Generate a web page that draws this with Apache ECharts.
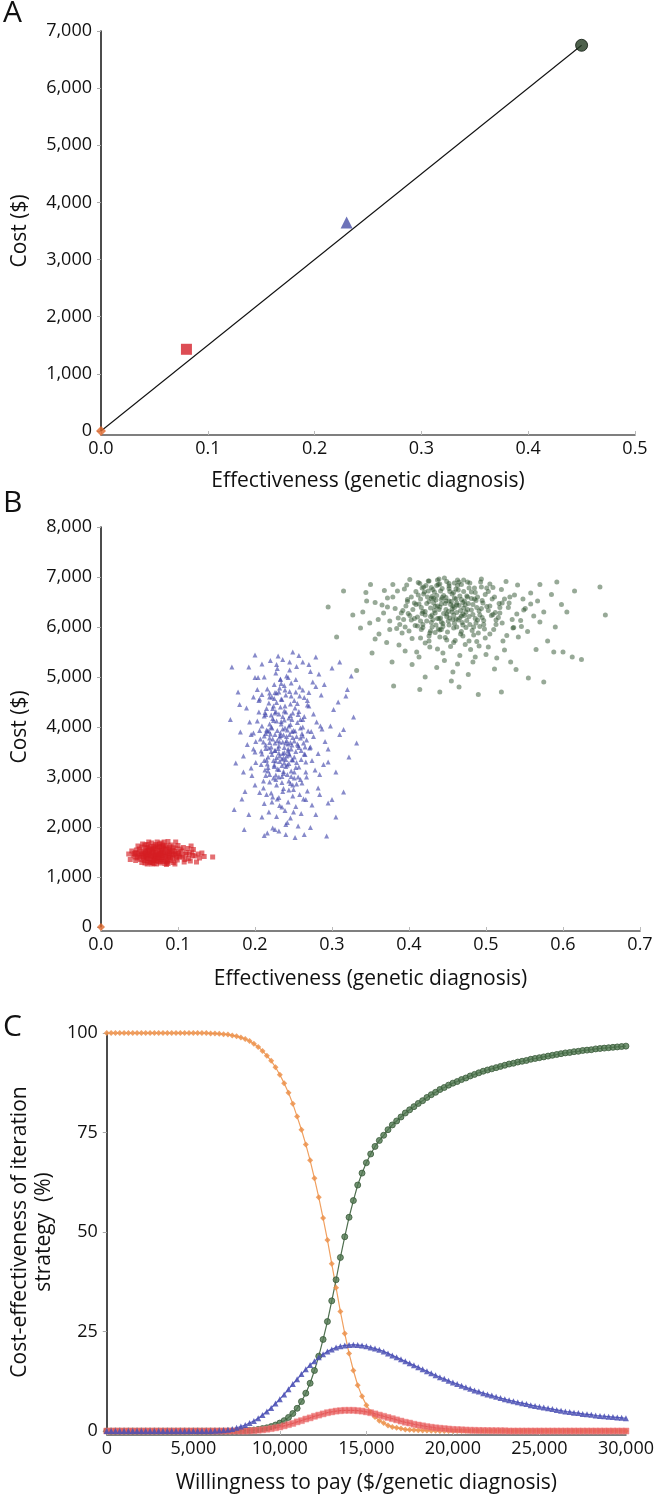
<!DOCTYPE html>
<html>
<head>
<meta charset="utf-8">
<script src="https://cdn.jsdelivr.net/npm/echarts@6/dist/echarts.min.js"></script>
<style>
html,body{margin:0;padding:0;background:#fff;}
#chart{width:657px;height:1496px;}
</style>
</head>
<body>
<div id="chart"></div>
<script>
// ---------- Panel A: base-case strategies ----------
var stratEff  = [0, 0.08, 0.23, 0.45];
var stratCost = [0, 1430, 3650, 6750];

// ---------- Panel B: probabilistic simulations (effectiveness, cost) ----------
var simOrange = [[0, 0]];
var simRed = [[0.071,1450],[0.082,1480],[0.064,1420],[0.078,1390],[0.089,1510],[0.058,1460],[0.075,1540],[0.093,1430],[0.067,1360],[0.084,1410],
[0.061,1530],[0.072,1320],[0.097,1470],[0.055,1390],[0.079,1600],[0.087,1350],[0.068,1490],[0.102,1400],[0.052,1510],[0.074,1440],
[0.09,1560],[0.063,1290],[0.081,1310],[0.059,1580],[0.099,1340],[0.07,1620],[0.086,1460],[0.048,1440],[0.077,1280],[0.105,1520],
[0.066,1570],[0.094,1290],[0.056,1330],[0.083,1550],[0.073,1380],[0.11,1450],[0.062,1450],[0.088,1400],[0.045,1490],[0.079,1500],
[0.097,1580],[0.069,1270],[0.053,1600],[0.085,1620],[0.114,1370],[0.065,1400],[0.076,1660],[0.091,1330],[0.057,1280],[0.101,1470],
[0.071,1500],[0.047,1380],[0.083,1270],[0.06,1650],[0.108,1300],[0.074,1580],[0.095,1510],[0.051,1350],[0.068,1330],[0.118,1500],
[0.087,1300],[0.062,1500],[0.079,1430],[0.042,1440],[0.1,1630],[0.072,1260],[0.089,1460],[0.055,1470],[0.066,1680],[0.122,1420],
[0.078,1350],[0.093,1380],[0.05,1560],[0.082,1700],[0.061,1370],[0.106,1400],[0.07,1400],[0.088,1540],[0.057,1420],[0.113,1570],
[0.075,1310],[0.064,1610],[0.096,1260],[0.045,1330],[0.084,1360],[0.068,1550],[0.126,1460],[0.08,1640],[0.053,1290],[0.099,1420],
[0.073,1700],[0.06,1320],[0.091,1640],[0.04,1520],[0.116,1320],[0.077,1470],[0.085,1250],[0.066,1260],[0.103,1560],[0.048,1620],
[0.128,1380],[0.094,1600],[0.058,1540],[0.081,1580],[0.069,1440],[0.12,1550],[0.044,1400],[0.109,1350],[0.076,1610],[0.062,1700],
[0.134,1410],[0.131,1480],[0.145,1400],[0.036,1460],[0.097,1700],[0.087,1710],[0.054,1660],[0.117,1620],[0.038,1350],[0.124,1300],
[0.066,1440],[0.074,1480],[0.08,1420],[0.059,1400],[0.071,1370],[0.086,1500],[0.063,1470],[0.077,1520],[0.069,1410],[0.083,1450],
[0.056,1500],[0.092,1480],[0.065,1350],[0.073,1600],[0.081,1380],[0.06,1430],[0.07,1560],[0.088,1430],[0.052,1450],[0.078,1320],
[0.067,1520],[0.095,1450],[0.075,1400],[0.058,1370],[0.084,1580],[0.064,1300],[0.072,1430],[0.09,1390],[0.049,1470],[0.079,1540],
[0.068,1600],[0.1,1500],[0.076,1450],[0.061,1590],[0.085,1320],[0.07,1330],[0.054,1420],[0.082,1620],[0.098,1380],[0.066,1510],
[0.074,1360],[0.058,1500],[0.089,1600],[0.063,1550],[0.078,1680],[0.05,1400],[0.104,1440],[0.071,1650],[0.087,1270],[0.06,1260],
[0.111,1490],[0.046,1540],[0.093,1530],[0.067,1290],[0.08,1490],[0.107,1590],[0.057,1640],[0.119,1430],[0.043,1470],[0.115,1460]];
var simBlue = [[0.231,3620],[0.248,3910],[0.215,3340],[0.262,4150],[0.224,2980],[0.239,4420],[0.207,3760],[0.253,3190],[0.228,4680],[0.244,3470],
[0.219,4060],[0.271,3580],[0.236,2710],[0.201,3290],[0.258,4800],[0.226,3850],[0.242,3050],[0.213,4290],[0.267,3740],[0.233,4960],
[0.249,2840],[0.221,3510],[0.285,4020],[0.238,3280],[0.205,4530],[0.255,3660],[0.229,2560],[0.246,4230],[0.217,3120],[0.274,3330],
[0.234,4110],[0.198,3880],[0.259,2950],[0.223,4370],[0.241,3730],[0.264,4590],[0.211,2780],[0.251,3400],[0.227,5080],[0.236,3960],
[0.278,3140],[0.218,3580],[0.245,4710],[0.203,4120],[0.262,3820],[0.232,2430],[0.257,4310],[0.214,3640],[0.24,3210],[0.291,3710],
[0.225,4850],[0.249,2620],[0.209,3460],[0.268,4440],[0.237,3070],[0.221,4000],[0.254,5210],[0.196,3030],[0.243,3560],[0.276,4260],
[0.228,3390],[0.261,2880],[0.216,4760],[0.235,4550],[0.252,3920],[0.206,2690],[0.282,3470],[0.231,3150],[0.247,4880],[0.219,3780],
[0.265,3600],[0.239,2330],[0.212,4220],[0.256,3000],[0.224,4420],[0.298,4020],[0.244,3270],[0.201,3710],[0.27,4690],[0.233,3830],
[0.25,2750],[0.217,3190],[0.259,4150],[0.189,4380],[0.241,5020],[0.228,2210],[0.273,3910],[0.211,2920],[0.246,3690],[0.263,2560],
[0.222,4600],[0.237,3380],[0.289,3250],[0.204,4990],[0.255,4470],[0.231,2590],[0.246,4050],[0.215,3940],[0.279,4810],[0.226,3530],
[0.253,2410],[0.198,3560],[0.267,3000],[0.236,5350],[0.208,3250],[0.26,3530],[0.223,4170],[0.242,2090],[0.282,2780],[0.219,4680],
[0.247,3120],[0.193,4100],[0.27,4420],[0.232,3700],[0.257,5430],[0.212,2470],[0.238,4320],[0.295,3560],[0.225,3240],[0.251,2980],
[0.206,4560],[0.264,3460],[0.229,5170],[0.244,2740],[0.185,3420],[0.276,3810],[0.221,2680],[0.253,4950],[0.235,2890],[0.302,4350],
[0.214,3870],[0.26,2270],[0.24,4640],[0.2,2840],[0.272,5110],[0.226,4280],[0.248,3350],[0.187,2710],[0.266,3100],[0.231,1920],
[0.254,3810],[0.209,5260],[0.286,4640],[0.238,3490],[0.218,2300],[0.249,5500],[0.203,4750],[0.274,2440],[0.227,3040],[0.259,3980],
[0.181,3900],[0.243,2500],[0.31,3850],[0.232,4780],[0.262,4740],[0.214,3030],[0.284,2650],[0.22,5330],[0.246,2180],[0.195,3180],
[0.268,2720],[0.234,4870],[0.256,2020],[0.209,2200],[0.29,4850],[0.24,1850],[0.178,4700],[0.279,2250],[0.223,1980],[0.262,5300],
[0.2,4990],[0.245,5140],[0.305,3100],[0.216,1880],[0.272,1990],[0.23,5420],[0.183,2560],[0.295,2480],[0.252,1790],[0.192,5200],
[0.318,4620],[0.175,3280],[0.283,5060],[0.264,1850],[0.305,2200],[0.168,4150],[0.322,3400],[0.293,1820],[0.173,2350],[0.325,5020],
[0.17,5200],[0.315,2700],[0.2,5440],[0.31,5300],[0.186,1950],[0.328,4200],[0.279,5400],[0.212,1830],[0.3,5180],[0.332,3680],
[0.232,3420],[0.241,3810],[0.226,3680],[0.247,3560],[0.218,3920],[0.236,4210],[0.251,3720],[0.229,3160],[0.244,4020],[0.222,3450],
[0.238,3590],[0.255,4090],[0.214,3570],[0.233,3880],[0.249,3340],[0.227,4310],[0.242,3240],[0.219,3690],[0.261,3870],[0.235,3360],
[0.224,4130],[0.246,4460],[0.231,3000],[0.253,3510],[0.216,3260],[0.239,3980],[0.228,4490],[0.257,3200],[0.221,4240],[0.243,3660],
[0.234,4560],[0.25,3930],[0.212,3820],[0.237,3110],[0.226,3530],[0.264,4210],[0.231,4700],[0.245,3440],[0.219,3050],[0.24,4300],
[0.256,3630],[0.223,3760],[0.235,3230],[0.248,4150],[0.209,4020],[0.229,3930],[0.266,3300],[0.238,4830],[0.217,3400],[0.252,4380],
[0.232,3800],[0.244,2920],[0.225,4570],[0.259,3780],[0.213,3140],[0.236,3700],[0.247,4620],[0.22,3860],[0.241,3420],[0.228,2840],
[0.254,3290],[0.233,4400],[0.215,4370],[0.249,3790],[0.237,2770],[0.262,4000],[0.224,3330],[0.243,4990],[0.208,3520],[0.231,4260],
[0.258,4620],[0.227,2950],[0.245,3850],[0.218,4480],[0.236,3470],[0.251,3100],[0.222,3980],[0.239,4740],[0.265,3450],[0.23,3570],
[0.247,3010],[0.211,3700],[0.234,4060],[0.256,4250],[0.225,3210],[0.242,3940],[0.219,2900],[0.253,4700],[0.232,3310],[0.269,3920],
[0.226,4690],[0.24,3350],[0.214,4250],[0.248,3640],[0.235,3010],[0.26,3350],[0.221,3600],[0.244,4180],[0.229,3730],[0.206,3930],
[0.251,4530],[0.237,3840],[0.223,2600],[0.257,3590],[0.233,4950],[0.216,3920],[0.246,2870],[0.228,4120],[0.263,3680],[0.24,3680],
[0.212,3330],[0.249,4280],[0.231,3480],[0.254,2860],[0.219,4600],[0.238,4140],[0.227,3320],[0.268,4530],[0.243,3520],[0.209,4650],
[0.222,2500],[0.258,2650],[0.235,2400],[0.272,3600],[0.2,3500],[0.28,4100],[0.195,3850],[0.25,2300],[0.215,2650],[0.275,4900],
[0.205,4300],[0.287,3960],[0.198,4600],[0.266,2550],[0.228,5250],[0.245,5300],[0.19,3650],[0.295,3300],[0.212,5000],[0.284,3050],
[0.18,4450],[0.308,4500],[0.24,2050],[0.226,1950],[0.3,2550],[0.185,3100],[0.315,3950],[0.192,2250],[0.27,5250],[0.32,4750]];
var simGreen = [[0.452,6520],[0.418,6310],[0.487,6080],[0.431,6750],[0.396,6420],[0.512,6290],[0.468,5910],[0.441,6180],[0.379,6600],[0.503,6710],
[0.426,5820],[0.459,6390],[0.534,6150],[0.412,6890],[0.475,6620],[0.388,6050],[0.449,6260],[0.521,6480],[0.437,5560],[0.463,6830],
[0.401,6230],[0.494,6370],[0.356,6490],[0.478,5720],[0.429,6570],[0.546,6010],[0.415,6120],[0.471,6940],[0.391,5880],[0.508,6560],
[0.444,6010],[0.483,6250],[0.367,6280],[0.456,6660],[0.527,5830],[0.409,6450],[0.438,6850],[0.498,5960],[0.375,6120],[0.462,6440],
[0.421,5680],[0.551,6370],[0.485,6780],[0.403,6600],[0.447,5790],[0.516,6190],[0.433,6330],[0.344,6690],[0.469,6090],[0.394,6760],
[0.491,5620],[0.426,6920],[0.458,5980],[0.537,6640],[0.382,6370],[0.474,6300],[0.416,5950],[0.505,6860],[0.442,6550],[0.361,5860],
[0.489,6140],[0.453,6710],[0.407,6170],[0.529,6390],[0.466,5430],[0.398,6510],[0.435,6040],[0.562,6220],[0.477,6470],[0.419,6800],
[0.446,5330],[0.513,6050],[0.372,6580],[0.484,5840],[0.428,6210],[0.541,6840],[0.461,6160],[0.404,5770],[0.495,6530],[0.439,6960],
[0.386,6180],[0.522,5720],[0.456,6360],[0.412,6640],[0.473,5650],[0.349,6080],[0.501,6410],[0.434,5890],[0.567,6520],[0.465,6900],
[0.423,6470],[0.48,5550],[0.397,6840],[0.518,6280],[0.449,5740],[0.368,6730],[0.492,6010],[0.43,6610],[0.554,5910],[0.459,6580],
[0.41,5500],[0.476,6350],[0.384,5970],[0.509,6790],[0.442,6100],[0.531,6600],[0.417,6270],[0.463,5260],[0.392,6330],[0.499,5780],
[0.452,6870],[0.575,6300],[0.428,5920],[0.486,6690],[0.356,5760],[0.44,6400],[0.524,5540],[0.47,6040],[0.401,6950],[0.545,6130],
[0.454,5610],[0.379,6850],[0.507,6230],[0.436,5190],[0.481,6570],[0.418,6050],[0.536,5990],[0.461,6760],[0.327,6240],[0.495,6190],
[0.444,5480],[0.399,6270],[0.558,6680],[0.467,5860],[0.425,6720],[0.514,5380],[0.387,5640],[0.479,6880],[0.451,6310],[0.542,5800],
[0.413,5400],[0.488,5710],[0.365,6440],[0.457,5100],[0.526,6910],[0.432,6480],[0.503,5600],[0.395,5520],[0.472,6230],[0.58,5720],
[0.446,6980],[0.421,5000],[0.517,6470],[0.378,5300],[0.483,5300],[0.44,5940],[0.598,6450],[0.464,6140],[0.408,6030],[0.532,5300],
[0.455,4920],[0.337,5980],[0.494,6960],[0.427,5600],[0.565,5550],[0.47,6490],[0.393,6150],[0.511,5160],[0.448,6520],[0.612,5400],
[0.315,6720],[0.486,5400],[0.437,6170],[0.549,6340],[0.404,5250],[0.477,5050],[0.521,6080],[0.371,5690],[0.46,5730],[0.588,5500],
[0.352,5480],[0.5,5450],[0.43,6000],[0.539,5150],[0.624,5350],[0.465,4800],[0.306,5800],[0.575,4900],[0.414,4750],[0.52,4700],
[0.648,6800],[0.655,6240],[0.615,6720],[0.295,6400],[0.6,5500],[0.332,5130],[0.38,4820],[0.555,4980],[0.49,4650],[0.44,4700],
[0.445,6630],[0.462,6290],[0.428,6380],[0.483,6450],[0.439,6170],[0.471,6710],[0.415,6560],[0.497,6130],[0.452,6040],[0.436,6830],
[0.478,6210],[0.421,6240],[0.459,6880],[0.505,6420],[0.442,6460],[0.468,6550],[0.411,6020],[0.489,6600],[0.433,6700],[0.457,6150],
[0.474,5990],[0.426,6510],[0.494,6800],[0.448,6350],[0.417,6780],[0.465,6430],[0.438,5960],[0.481,6340],[0.452,6770],[0.511,6600],
[0.429,6090],[0.468,6220],[0.405,6350],[0.476,6900],[0.443,6590],[0.492,6240],[0.419,6660],[0.455,6510],[0.434,6280],[0.462,6000],
[0.487,6530],[0.413,6460],[0.449,6910],[0.471,6380],[0.427,5880],[0.503,6330],[0.441,6720],[0.458,6240],[0.482,5930],[0.422,6830],
[0.466,6620],[0.437,6420],[0.496,6480],[0.451,6120],[0.409,6710],[0.478,6780],[0.445,6270],[0.463,6940],[0.431,6150],[0.518,6390],
[0.454,6450],[0.424,6600],[0.486,6170],[0.44,6860],[0.472,6520],[0.416,6390],[0.459,6070],[0.499,6650],[0.435,6540],[0.467,6330],
[0.448,6590],[0.403,6140],[0.481,6700],[0.429,6790],[0.457,6420],[0.509,6250],[0.442,5950],[0.475,6130],[0.421,6310],[0.464,6740],
[0.488,6390],[0.436,6630],[0.453,6180],[0.418,5990],[0.493,6900],[0.447,6470],[0.47,6260],[0.425,6920],[0.461,6560],[0.439,6350],
[0.524,6560],[0.398,6550],[0.479,6050],[0.452,6820],[0.43,6240],[0.485,6560],[0.414,6870],[0.466,6180],[0.444,6070],[0.501,6780],
[0.458,6690],[0.423,6120],[0.473,6440],[0.437,6940],[0.491,6320],[0.449,6210],[0.407,6480],[0.468,6850],[0.432,6570],[0.513,6140],
[0.456,6300],[0.42,6700],[0.484,6000],[0.443,6770],[0.476,6600],[0.411,6200],[0.462,6480],[0.497,6050],[0.434,6410],[0.45,5900],
[0.53,6480],[0.39,6280],[0.54,6260],[0.385,6720],[0.548,6560],[0.372,6400],[0.52,6750],[0.4,5920],[0.535,5980],[0.375,5950],
[0.505,5860],[0.415,5780],[0.47,5820],[0.49,5880],[0.44,5800],[0.458,5690],[0.426,5720],[0.51,5950],[0.395,6000],[0.57,6100],
[0.558,6460],[0.36,6150],[0.585,6650],[0.345,6520],[0.57,6850],[0.35,6850],[0.59,6000],[0.34,6300],[0.605,6300],[0.592,6900]];

// ---------- Panel C: acceptability curves ----------
var wtp = [0,250,500,750,1000,1250,1500,1750,2000,2250,2500,2750,3000,3250,3500,3750,4000,4250,4500,4750,
5000,5250,5500,5750,6000,6250,6500,6750,7000,7250,7500,7750,8000,8250,8500,8750,9000,9250,9500,9750,
10000,10250,10500,10750,11000,11250,11500,11750,12000,12250,12500,12750,13000,13250,13500,13750,14000,14250,14500,14750,
15000,15250,15500,15750,16000,16250,16500,16750,17000,17250,17500,17750,18000,18250,18500,18750,19000,19250,19500,19750,
20000,20250,20500,20750,21000,21250,21500,21750,22000,22250,22500,22750,23000,23250,23500,23750,24000,24250,24500,24750,
25000,25250,25500,25750,26000,26250,26500,26750,27000,27250,27500,27750,28000,28250,28500,28750,29000,29250,29500,29750,30000];
var pctOrange = [100,100,100,100,100,100,100,100,100,100,100,100,100,100,100,100,100,100,100,100,100,100,100,100,
99.9,99.9,99.8,99.7,99.6,99.4,99.2,98.9,98.5,98,
97.3,96.5,95.5,94.3,93,91.4,89.5,87.4,85,82.2,
79,75.7,72,68,63.5,58.7,53.5,48,42,36,
30,24.5,19.5,15.2,11.5,8.7,6.5,4.8,3.5,2.6,
2,1.4,1,0.8,0.6,0.4,0.3,0.25,0.2,0.15,
0.1,0.08,0.05,
0,0,0,0,0,0,0,0,0,0,0,0,0,0,0,0,0,0,0,0,0,0,0,0,0,0,0,0,0,0,0,0,0,0,0,0,0,0,0,0,0,0,0,0];
var pctBlue = [0,0,0,0,0,0,0,0,0,0,0,0,0,0,0,0,0,0,0,0,0,0,0,0,0,
0.05,0.1,0.2,0.3,0.5,0.8,1.1,1.5,2,2.5,
3.2,4,4.9,5.8,6.9,8,9.2,10.5,11.8,13,
14.3,15.5,16.6,17.5,18.5,19.3,20,20.5,21,21.3,
21.5,21.6,21.7,21.6,21.5,21.3,21,20.7,20.4,20,
19.5,19,18.5,18,17.5,17,16.5,16,15.5,15,
14.5,14,13.5,13.1,12.6,12.2,11.8,11.4,11,10.6,
10.2,9.9,9.5,9.2,8.9,8.6,8.3,8,7.7,7.5,
7.2,7,6.8,6.5,6.3,6.1,5.9,5.7,5.5,5.3,
5.1,4.9,4.8,4.6,4.5,4.3,4.2,4.1,3.9,3.8,
3.7,3.6,3.5,3.4,3.3,3.2];
var pctRed = [0,0,0,0,0,0,0,0,0,0,0,0,0,0,0,0,0,0,0,0,0,0,0,0,0,0,0,0,0,0,0,0,0,
0.05,0.1,0.2,0.3,0.45,0.6,0.8,1,1.3,1.6,
1.9,2.3,2.6,3,3.3,3.7,4,4.3,4.6,4.8,
5,5.1,5.2,5.2,5.2,5.1,5,4.8,4.6,4.3,
4,3.7,3.4,3.1,2.8,2.5,2.2,2,1.7,1.5,
1.3,1.1,0.95,0.8,0.7,0.6,0.5,0.4,0.35,0.3,
0.25,0.2,0.17,0.14,0.12,0.1,0.08,0.07,0.06,0.05,
0,0,0,0,0,0,0,0,0,0,0,0,0,0,0,0,0,0,0,0,0,0,0,0,0,0,0,0];
var pctGreen = [0,0,0,0,0,0,0,0,0,0,0,0,0,0,0,0,0,0,0,0,0,0,0,0,0,0,0,0,0,0,0,
0.05,0.1,0.15,0.25,0.4,0.6,0.8,1.1,1.5,2,
2.6,3.4,4.4,5.7,7.4,9.5,12,15.2,18.8,23,
27.5,32.7,38,43.6,48.8,53.7,57.9,61.8,64.8,67.4,
69.6,71.5,73,74.3,75.7,76.9,77.9,78.9,79.9,80.7,
81.5,82.3,83,83.8,84.5,85.1,85.8,86.3,86.9,87.4,
87.8,88.3,88.7,89.2,89.6,90,90.4,90.7,91,91.3,
91.6,91.9,92.2,92.4,92.7,92.9,93.1,93.4,93.6,93.8,
94,94.2,94.4,94.6,94.8,95,95.1,95.3,95.4,95.6,
95.7,95.8,96,96.1,96.2,96.3,96.4,96.5,96.6,96.7];

// ---------- labels ----------
var panelLabels = ['A', 'B', 'C'];
var xNameAB = 'Effectiveness (genetic diagnosis)';
var yNameAB = 'Cost ($)';
var xNameC = 'Willingness to pay ($/genetic diagnosis)';
var yNameC = 'Cost-effectiveness of iteration\nstrategy  (%)';

// ---------- colours ----------
var cOrange = '#E0682A', cRed = '#D4202A', cBlue = '#4850A8', cGreen = '#22391F';

function pairs(xs, ys) { return xs.map(function (x, i) { return [x, ys[i]]; }); }
function thousands(v) { return v.toLocaleString('en-US'); }
function fixed1(v) { return v.toFixed(1); }

var FONT = 'Open Sans';
var tickLabel = { color: '#111', fontSize: 18, fontFamily: FONT };
var nameStyle = { color: '#111', fontSize: 21, fontFamily: FONT, lineHeight: 24 };

function yAxisCommon(idx, min, max, interval, fmt, name, gap) {
  return {
    type: 'value', gridIndex: idx, min: min, max: max, interval: interval,
    offset: 3,
    name: name, nameLocation: 'middle', nameGap: gap, nameTextStyle: nameStyle,
    axisLine: { show: true, lineStyle: { color: '#111', width: 1.5 } },
    axisTick: { show: true, length: 4, lineStyle: { color: '#aaa' } },
    axisLabel: Object.assign({ margin: 6, formatter: fmt }, tickLabel),
    splitLine: { show: false }
  };
}
function xAxisCommon(idx, min, max, interval, fmt, name, gap) {
  return {
    type: 'value', gridIndex: idx, min: min, max: max, interval: interval,
    offset: 4,
    name: name, nameLocation: 'middle', nameGap: gap, nameTextStyle: nameStyle,
    axisLine: { show: true, onZero: false, lineStyle: { color: '#555', width: 1.6 } },
    axisTick: { show: true, inside: true, length: 4, lineStyle: { color: '#bbb' } },
    axisLabel: Object.assign({ margin: 5, formatter: fmt }, tickLabel),
    splitLine: { show: false }
  };
}

var chart = echarts.init(document.getElementById('chart'), null, { renderer: 'canvas' });
var last = stratEff.length - 1;
var letterStyle = { fontSize: 30, fontFamily: FONT, fill: '#111' };

chart.setOption({
  animation: false,
  backgroundColor: '#fff',
  graphic: [
    { type: 'text', left: 3, top: -2, style: Object.assign({ text: panelLabels[0] }, letterStyle) },
    { type: 'text', left: 3, top: 488, style: Object.assign({ text: panelLabels[1] }, letterStyle) },
    { type: 'text', left: 3, top: 1012, style: Object.assign({ text: panelLabels[2] }, letterStyle) }
  ],
  grid: [
    { left: 99, top: 31, width: 536, height: 400 },
    { left: 101, top: 527, width: 539, height: 400 },
    { left: 98, top: 1033, width: 535, height: 400 }
  ],
  xAxis: [
    xAxisCommon(0, 0, 0.5, 0.1, fixed1, xNameAB, 34),
    xAxisCommon(1, 0, 0.7, 0.1, fixed1, xNameAB, 36),
    xAxisCommon(2, 0, 30000, 5000, thousands, xNameC, 36)
  ],
  yAxis: [
    yAxisCommon(0, 0, 7000, 1000, thousands, yNameAB, 66),
    yAxisCommon(1, 0, 8000, 1000, thousands, yNameAB, 66),
    yAxisCommon(2, 0, 100, 25, thousands, yNameC, 44)
  ],
  series: [
    // Panel A
    { type: 'line', xAxisIndex: 0, yAxisIndex: 0, symbol: 'none', silent: true,
      data: [[stratEff[0], stratCost[0]], [stratEff[last], stratCost[last]]],
      lineStyle: { color: '#111', width: 1.1 }, z: 1 },
    { type: 'scatter', xAxisIndex: 0, yAxisIndex: 0, symbol: 'diamond', symbolSize: 10,
      data: [[stratEff[0], stratCost[0]]], itemStyle: { color: cOrange }, z: 3 },
    { type: 'scatter', xAxisIndex: 0, yAxisIndex: 0, symbol: 'rect', symbolSize: 11,
      data: [[stratEff[1], stratCost[1]]], itemStyle: { color: cRed }, z: 3 },
    { type: 'scatter', xAxisIndex: 0, yAxisIndex: 0, symbol: 'triangle', symbolSize: 12,
      data: [[stratEff[2], stratCost[2]]], itemStyle: { color: cBlue }, z: 3 },
    { type: 'scatter', xAxisIndex: 0, yAxisIndex: 0, symbol: 'circle', symbolSize: 12,
      data: [[stratEff[3], stratCost[3]]], itemStyle: { color: cGreen, borderColor: '#0c160c', borderWidth: 1 }, z: 3 },
    // Panel B
    { type: 'scatter', xAxisIndex: 1, yAxisIndex: 1, symbol: 'circle', symbolSize: 5,
      data: simGreen, itemStyle: { color: 'rgba(38,75,38,0.6)' } },
    { type: 'scatter', xAxisIndex: 1, yAxisIndex: 1, symbol: 'triangle', symbolSize: 5,
      data: simBlue, itemStyle: { color: 'rgba(68,72,172,0.8)' } },
    { type: 'scatter', xAxisIndex: 1, yAxisIndex: 1, symbol: 'rect', symbolSize: 5,
      data: simRed, itemStyle: { color: 'rgba(212,30,34,0.8)' } },
    { type: 'scatter', xAxisIndex: 1, yAxisIndex: 1, symbol: 'diamond', symbolSize: 8,
      data: simOrange, itemStyle: { color: cOrange } },
    // Panel C
    { type: 'line', xAxisIndex: 2, yAxisIndex: 2, data: pairs(wtp, pctOrange),
      symbol: 'diamond', symbolSize: 6, showAllSymbol: true,
      lineStyle: { color: '#F0A060', width: 1.2 },
      itemStyle: { color: 'rgba(236,146,76,0.85)' } },
    { type: 'line', xAxisIndex: 2, yAxisIndex: 2, data: pairs(wtp, pctGreen),
      symbol: 'circle', symbolSize: 6, showAllSymbol: true,
      lineStyle: { color: '#4E6E4E', width: 1.2 },
      itemStyle: { color: 'rgba(80,120,80,0.8)', borderColor: '#3A5A3A', borderWidth: 0.8 } },
    { type: 'line', xAxisIndex: 2, yAxisIndex: 2, data: pairs(wtp, pctRed),
      symbol: 'rect', symbolSize: 6, showAllSymbol: true,
      lineStyle: { color: '#E05050', width: 1.2 },
      itemStyle: { color: 'rgba(230,90,90,0.75)', borderColor: 'rgba(240,130,130,0.8)', borderWidth: 0.6 } },
    { type: 'line', xAxisIndex: 2, yAxisIndex: 2, data: pairs(wtp, pctBlue),
      symbol: 'triangle', symbolSize: 6, showAllSymbol: true,
      lineStyle: { color: '#5A60C0', width: 1.2 },
      itemStyle: { color: 'rgba(75,80,180,0.85)' } }
  ]
});
</script>
</body>
</html>
